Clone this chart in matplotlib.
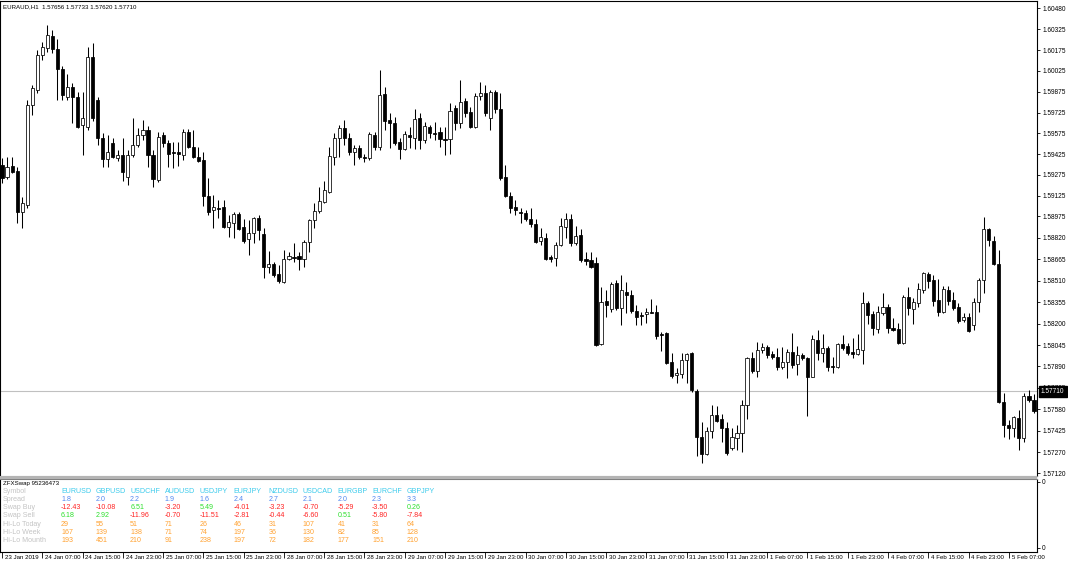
import matplotlib
matplotlib.use('Agg')
import matplotlib.pyplot as plt
from matplotlib.transforms import ScaledTranslation, blended_transform_factory
from matplotlib.patches import Rectangle
import numpy as np

## Data (EURAUD H1)
symbol_name = 'EURAUD,H1'
last_bar = [1.57656, 1.57733, 1.57620, 1.57710]  # O H L C of the current bar

opens = [
    1.59346, 1.59259, 1.59338, 1.59302, 1.59006, 1.59057, 1.59779, 1.59888, 1.60141, 1.60191,
    1.60278, 1.60184, 1.60039, 1.59837, 1.59909, 1.59837, 1.59635, 1.59620, 1.60126, 1.59815,
    1.59541, 1.59389, 1.59505, 1.59396, 1.59418, 1.59259, 1.59418, 1.59490, 1.59562, 1.59599,
    1.59418, 1.59237, 1.59562, 1.59505, 1.59440, 1.59440, 1.59418, 1.59584, 1.59476, 1.59404,
    1.59382, 1.59122, 1.59021, 1.59035, 1.59042, 1.58898, 1.58927, 1.58992, 1.58898, 1.58811,
    1.58854, 1.58963, 1.58847, 1.58609, 1.58630, 1.58558, 1.58500, 1.58666, 1.58681, 1.58688,
    1.58666, 1.58789, 1.58948, 1.59013, 1.59078, 1.59151, 1.59404, 1.59541, 1.59613, 1.59541,
    1.59440, 1.59469, 1.59404, 1.59396, 1.59562, 1.59476, 1.59859, 1.59671, 1.59649, 1.59512,
    1.59461, 1.59562, 1.59541, 1.59685, 1.59526, 1.59620, 1.59577, 1.59584, 1.59534, 1.59534,
    1.59758, 1.59649, 1.59808, 1.59729, 1.59620, 1.59844, 1.59866, 1.59685, 1.59873, 1.59750,
    1.59259, 1.59122, 1.59042, 1.59006, 1.58999, 1.58956, 1.58919, 1.58797, 1.58818, 1.58681,
    1.58674, 1.58768, 1.58898, 1.58956, 1.58782, 1.58840, 1.58666, 1.58659, 1.58638, 1.58052,
    1.58363, 1.58305, 1.58493, 1.58312, 1.58428, 1.58406, 1.58291, 1.58262, 1.58269, 1.58283,
    1.58283, 1.58124, 1.58132, 1.57922, 1.57828, 1.57835, 1.57937, 1.57987, 1.57713, 1.57380,
    1.57257, 1.57424, 1.57539, 1.57510, 1.57445, 1.57301, 1.57373, 1.57409, 1.57611, 1.57951,
    1.57857, 1.58009, 1.58031, 1.57980, 1.57958, 1.57886, 1.57922, 1.57994, 1.57908, 1.57973,
    1.57951, 1.57814, 1.58081, 1.57987, 1.58023, 1.57893, 1.57886, 1.58052, 1.58038, 1.57994,
    1.57980, 1.58009, 1.58348, 1.58269, 1.58161, 1.58276, 1.58320, 1.58168, 1.58161, 1.58059,
    1.58392, 1.58305, 1.58348, 1.58442, 1.58558, 1.58515, 1.58370, 1.58283, 1.58442, 1.58370,
    1.58320, 1.58226, 1.58247, 1.58190, 1.58356, 1.58515, 1.58883, 1.58797, 1.58630, 1.57633,
    1.57467, 1.57445, 1.57518, 1.57373, 1.57676, 1.57648]

highs = [
    1.59396, 1.59404, 1.59404, 1.59331, 1.59114, 1.59815, 1.59924, 1.60177, 1.60235, 1.60357,
    1.60321, 1.60256, 1.60061, 1.60003, 1.59938, 1.59873, 1.59873, 1.60198, 1.60227, 1.59837,
    1.59577, 1.59562, 1.59541, 1.59454, 1.59541, 1.59454, 1.59685, 1.59613, 1.59671, 1.59628,
    1.59454, 1.59584, 1.59584, 1.59526, 1.59512, 1.59512, 1.59606, 1.59606, 1.59599, 1.59476,
    1.59440, 1.59252, 1.59129, 1.59093, 1.59093, 1.58984, 1.59006, 1.59006, 1.58956, 1.58948,
    1.58970, 1.58984, 1.58890, 1.58724, 1.58645, 1.58623, 1.58732, 1.58717, 1.58782, 1.58717,
    1.58804, 1.58956, 1.59071, 1.59187, 1.59230, 1.59476, 1.59577, 1.59635, 1.59671, 1.59577,
    1.59490, 1.59490, 1.59425, 1.59584, 1.59584, 1.60032, 1.59909, 1.59721, 1.59693, 1.59541,
    1.59591, 1.59620, 1.59750, 1.59721, 1.59656, 1.59635, 1.59656, 1.59620, 1.59620, 1.59794,
    1.59779, 1.59960, 1.59830, 1.59765, 1.59866, 1.59945, 1.59924, 1.59888, 1.59888, 1.59866,
    1.59346, 1.59151, 1.59093, 1.59035, 1.59021, 1.59035, 1.58956, 1.58890, 1.58854, 1.58695,
    1.58789, 1.58963, 1.58999, 1.58992, 1.58905, 1.58883, 1.58717, 1.58717, 1.58681, 1.58464,
    1.58442, 1.58500, 1.58515, 1.58551, 1.58500, 1.58442, 1.58334, 1.58283, 1.58312, 1.58377,
    1.58334, 1.58139, 1.58139, 1.57987, 1.57879, 1.57987, 1.57987, 1.57994, 1.57727, 1.57489,
    1.57452, 1.57611, 1.57604, 1.57546, 1.57489, 1.57445, 1.57467, 1.57648, 1.57958, 1.57994,
    1.58067, 1.58059, 1.58045, 1.58002, 1.58023, 1.58031, 1.58016, 1.58132, 1.58038, 1.57987,
    1.57958, 1.58117, 1.58153, 1.58124, 1.58038, 1.57958, 1.58059, 1.58117, 1.58059, 1.58096,
    1.58124, 1.58428, 1.58363, 1.58291, 1.58327, 1.58421, 1.58341, 1.58240, 1.58204, 1.58406,
    1.58464, 1.58385, 1.58493, 1.58573, 1.58573, 1.58551, 1.58522, 1.58471, 1.58471, 1.58428,
    1.58348, 1.58276, 1.58276, 1.58385, 1.58529, 1.58970, 1.58890, 1.58833, 1.58732, 1.57698,
    1.57503, 1.57532, 1.57575, 1.57698, 1.57720, 1.57691]

lows = [
    1.59216, 1.59245, 1.59288, 1.58927, 1.58890, 1.59035, 1.59707, 1.59866, 1.60104, 1.60162,
    1.60155, 1.59815, 1.59815, 1.59815, 1.59649, 1.59613, 1.59418, 1.59599, 1.59664, 1.59490,
    1.59331, 1.59331, 1.59396, 1.59375, 1.59230, 1.59201, 1.59404, 1.59476, 1.59526, 1.59331,
    1.59187, 1.59223, 1.59476, 1.59331, 1.59324, 1.59338, 1.59382, 1.59469, 1.59396, 1.59367,
    1.59049, 1.58984, 1.58890, 1.58963, 1.58890, 1.58825, 1.58818, 1.58876, 1.58782, 1.58695,
    1.58782, 1.58804, 1.58529, 1.58565, 1.58536, 1.58493, 1.58493, 1.58659, 1.58645, 1.58587,
    1.58609, 1.58717, 1.58890, 1.58999, 1.59071, 1.59143, 1.59346, 1.59404, 1.59490, 1.59418,
    1.59346, 1.59389, 1.59367, 1.59382, 1.59454, 1.59454, 1.59599, 1.59469, 1.59490, 1.59389,
    1.59454, 1.59469, 1.59461, 1.59461, 1.59505, 1.59541, 1.59526, 1.59476, 1.59418, 1.59425,
    1.59599, 1.59613, 1.59693, 1.59613, 1.59613, 1.59815, 1.59700, 1.59599, 1.59721, 1.59237,
    1.59114, 1.58999, 1.58984, 1.58927, 1.58941, 1.58898, 1.58782, 1.58768, 1.58659, 1.58645,
    1.58616, 1.58760, 1.58818, 1.58760, 1.58768, 1.58645, 1.58623, 1.58601, 1.58038, 1.58045,
    1.58247, 1.58283, 1.58298, 1.58190, 1.58276, 1.58276, 1.58190, 1.58190, 1.58204, 1.58276,
    1.58088, 1.58002, 1.57908, 1.57807, 1.57770, 1.57807, 1.57770, 1.57705, 1.57243, 1.57192,
    1.57250, 1.57373, 1.57489, 1.57344, 1.57250, 1.57286, 1.57286, 1.57272, 1.57510, 1.57843,
    1.57814, 1.57987, 1.57951, 1.57944, 1.57864, 1.57872, 1.57807, 1.57879, 1.57828, 1.57937,
    1.57532, 1.57814, 1.57937, 1.57922, 1.57857, 1.57843, 1.57879, 1.58009, 1.57973, 1.57951,
    1.57973, 1.57908, 1.58197, 1.58117, 1.58132, 1.58262, 1.58132, 1.58146, 1.58052, 1.58052,
    1.58262, 1.58197, 1.58320, 1.58421, 1.58457, 1.58327, 1.58255, 1.58276, 1.58334, 1.58298,
    1.58204, 1.58211, 1.58139, 1.58153, 1.58283, 1.58421, 1.58760, 1.58623, 1.57626, 1.57380,
    1.57366, 1.57380, 1.57286, 1.57344, 1.57633, 1.57554]

closes = [
    1.59252, 1.59331, 1.59295, 1.59006, 1.59071, 1.59779, 1.59902, 1.60141, 1.60198, 1.60285,
    1.60184, 1.60039, 1.59852, 1.59909, 1.59837, 1.59620, 1.59685, 1.60126, 1.59685, 1.59541,
    1.59389, 1.59440, 1.59404, 1.59418, 1.59295, 1.59418, 1.59490, 1.59562, 1.59599, 1.59418,
    1.59245, 1.59548, 1.59505, 1.59425, 1.59432, 1.59425, 1.59584, 1.59476, 1.59404, 1.59375,
    1.59122, 1.59006, 1.59042, 1.59028, 1.58898, 1.58934, 1.58992, 1.58883, 1.58797, 1.58854,
    1.58963, 1.58876, 1.58609, 1.58630, 1.58551, 1.58507, 1.58666, 1.58688, 1.58674, 1.58666,
    1.58789, 1.58948, 1.59013, 1.59086, 1.59165, 1.59411, 1.59541, 1.59613, 1.59541, 1.59440,
    1.59469, 1.59404, 1.59396, 1.59570, 1.59476, 1.59852, 1.59664, 1.59649, 1.59505, 1.59461,
    1.59570, 1.59548, 1.59678, 1.59526, 1.59628, 1.59577, 1.59570, 1.59534, 1.59526, 1.59736,
    1.59649, 1.59801, 1.59721, 1.59620, 1.59844, 1.59866, 1.59721, 1.59873, 1.59750, 1.59252,
    1.59122, 1.59035, 1.59021, 1.58999, 1.58956, 1.58919, 1.58789, 1.58825, 1.58666, 1.58666,
    1.58768, 1.58905, 1.58956, 1.58782, 1.58833, 1.58659, 1.58652, 1.58609, 1.58045, 1.58356,
    1.58334, 1.58486, 1.58312, 1.58442, 1.58406, 1.58291, 1.58247, 1.58255, 1.58283, 1.58276,
    1.58110, 1.58117, 1.57915, 1.57821, 1.57843, 1.57937, 1.57980, 1.57720, 1.57380, 1.57257,
    1.57424, 1.57539, 1.57496, 1.57445, 1.57265, 1.57380, 1.57409, 1.57611, 1.57951, 1.57857,
    1.58009, 1.58031, 1.57973, 1.57958, 1.57886, 1.57922, 1.57994, 1.57900, 1.57973, 1.57951,
    1.57814, 1.58088, 1.57987, 1.58023, 1.57886, 1.57886, 1.58052, 1.58023, 1.57987, 1.57980,
    1.58016, 1.58348, 1.58262, 1.58168, 1.58283, 1.58320, 1.58168, 1.58153, 1.58059, 1.58392,
    1.58312, 1.58356, 1.58450, 1.58565, 1.58507, 1.58363, 1.58283, 1.58450, 1.58363, 1.58312,
    1.58218, 1.58247, 1.58146, 1.58356, 1.58515, 1.58883, 1.58804, 1.58630, 1.57633, 1.57467,
    1.57445, 1.57525, 1.57373, 1.57676, 1.57648, 1.57568]

price_ticks = [1.60480, 1.60325, 1.60175, 1.60025, 1.59875, 1.59725, 1.59575, 1.59425,
               1.59275, 1.59125, 1.58975, 1.58820, 1.58665, 1.58510, 1.58355, 1.58200,
               1.58045, 1.57890, 1.57735, 1.57580, 1.57425, 1.57270, 1.57120]

time_labels = ['23 Jan 2019', '24 Jan 07:00', '24 Jan 15:00', '24 Jan 23:00', '25 Jan 07:00',
               '25 Jan 15:00', '25 Jan 23:00', '28 Jan 07:00', '28 Jan 15:00', '28 Jan 23:00',
               '29 Jan 07:00', '29 Jan 15:00', '29 Jan 23:00', '30 Jan 07:00', '30 Jan 15:00',
               '30 Jan 23:00', '31 Jan 07:00', '31 Jan 15:00', '31 Jan 23:00', '1 Feb 07:00',
               '1 Feb 15:00', '1 Feb 23:00', '4 Feb 07:00', '4 Feb 15:00', '4 Feb 23:00',
               '5 Feb 07:00']
bars_per_label = 8

# ZFXSwap indicator table
indicator_name = 'ZFXSwap 95236473'
row_names = ['Symbol', 'Spread', 'Swap Buy', 'Swap Sell', 'Hi-Lo Today', 'Hi-Lo Week', 'Hi-Lo Mounth']
symbols = ['EURUSD', 'GBPUSD', 'USDCHF', 'AUDUSD', 'USDJPY', 'EURJPY', 'NZDUSD', 'USDCAD',
           'EURGBP', 'EURCHF', 'GBPJPY']
spread = [1.8, 2.0, 2.2, 1.9, 1.6, 2.4, 2.7, 2.1, 2.0, 2.3, 3.3]
swap_buy = [-12.43, -10.08, 6.51, -3.20, 5.49, -4.01, -3.23, -0.70, -5.29, -3.50, 0.26]
swap_sell = [6.18, 2.92, -11.96, -0.70, -11.51, -2.81, -0.44, -6.60, 0.51, -5.80, -7.84]
hilo_today = [29, 55, 51, 71, 26, 46, 31, 107, 41, 31, 64]
hilo_week = [167, 139, 138, 71, 74, 197, 36, 130, 82, 85, 128]
hilo_month = [193, 451, 210, 91, 238, 197, 72, 182, 177, 151, 210]

## Colours
c_label = '#c4c4c4'
c_symbol = '#3ccbec'
c_spread = '#5188f2'
c_neg = '#ff2424'
c_pos = '#2ee02e'
c_hilo = '#ffa232'

## Figure layout (pixel based, 1068 x 565)
W, H = 1068, 565
plt.rcParams['font.family'] = ['Liberation Sans', 'DejaVu Sans']
fig = plt.figure(figsize=(W / 100, H / 100), dpi=100)


def box(l, t, r, b):
    return [l / W, 1 - b / H, (r - l) / W, (b - t) / H]


ax = fig.add_axes(box(0, 1, 1037, 476))
sub = fig.add_axes(box(0, 479, 1037, 552))
fig.patches.append(Rectangle((0, 1 - 479 / H), 1037 / W, 3 / H, transform=fig.transFigure,
                             facecolor='#b4b4b4', edgecolor='none', zorder=0))

## Candles
o = np.array(opens)
h = np.array(highs)
l = np.array(lows)
c = np.array(closes)
x = np.arange(len(o))
up = c > o
body_bottom = np.minimum(o, c)
body_height = np.maximum(np.abs(c - o), 0.000005)

ax.axhline(last_bar[3], color='#c0c0c0', linewidth=0.8, zorder=1)
ax.vlines(x, l, h, color='black', linewidth=0.75, zorder=2)
ax.bar(x, body_height, bottom=body_bottom, width=0.62,
       color=np.where(up, 'white', 'black'), edgecolor='black', linewidth=0.55, zorder=3)

xlim = (-0.4, 205.6)
ax.set_xlim(*xlim)
ax.set_ylim(1.570984, 1.605308)
ax.set_xticks([])
ax.yaxis.tick_right()
ax.set_yticks(price_ticks)
ax.set_yticklabels([f'{v:.5f}' for v in price_ticks])
ax.tick_params(axis='y', length=2.2, width=0.6, pad=1.5, labelsize=4.7, direction='out')
for s in ax.spines.values():
    s.set_linewidth(0.8)
ax.spines['bottom'].set_color('#808080')

# title line with the current bar
ax.text(3 / 1037, 0.987, f'{symbol_name}  ' + ' '.join(f'{v:.5f}' for v in last_bar),
        transform=ax.transAxes, ha='left', va='center', fontsize=4.4)

# bid label on the price scale
trans = blended_transform_factory(ax.transAxes, ax.transData)
ax.text(1.0 + 4 / 1037, last_bar[3], f'{last_bar[3]:.5f}', transform=trans, ha='left',
        va='center', fontsize=4.7, color='white', clip_on=False, zorder=10,
        bbox=dict(boxstyle='square,pad=0.35', facecolor='black', edgecolor='black'))

## Sub window with the swap table
sub.set_xlim(*xlim)
sub.set_ylim(0, 1)
sub.set_xticks(np.arange(len(time_labels)) * bars_per_label)
sub.set_xticklabels(time_labels)
sub.tick_params(axis='x', length=4, width=0.6, pad=-2.0, labelsize=4.4)
for lab in sub.get_xticklabels():
    lab.set_ha('left')
    lab.set_transform(lab.get_transform() + ScaledTranslation(2 / 72, 0, fig.dpi_scale_trans))
sub.yaxis.tick_right()
sub.set_yticks([0.055, 0.96])
sub.set_yticklabels(['0', '0'])
sub.tick_params(axis='y', length=2.2, width=0.6, pad=1.5, labelsize=4.7)
for s in sub.spines.values():
    s.set_linewidth(0.8)
sub.spines['top'].set_color('#808080')


def put(px, py, s, color, size=5.1):
    fig.text(px / W, 1 - py / H, s, ha='left', va='center', fontsize=size, color=color)


put(3, 483, indicator_name, 'black', 4.4)
row_y = [491.7, 499.6, 507.6, 515.8, 524.0, 532.3, 540.7]
for name, y in zip(row_names, row_y):
    put(3, y, name, c_label)

col_x0, col_dx = 61, 34.57
for k in range(len(symbols)):
    cx = col_x0 + k * col_dx
    put(cx, row_y[0], symbols[k], c_symbol)
    put(cx, row_y[1], f'{spread[k]:.1f}', c_spread)
    put(cx, row_y[2], f'{swap_buy[k]:.2f}', c_pos if swap_buy[k] > 0 else c_neg)
    put(cx, row_y[3], f'{swap_sell[k]:.2f}', c_pos if swap_sell[k] > 0 else c_neg)
    put(cx, row_y[4], str(hilo_today[k]), c_hilo)
    put(cx, row_y[5], str(hilo_week[k]), c_hilo)
    put(cx, row_y[6], str(hilo_month[k]), c_hilo)

fig.savefig('out.png', dpi=100)
